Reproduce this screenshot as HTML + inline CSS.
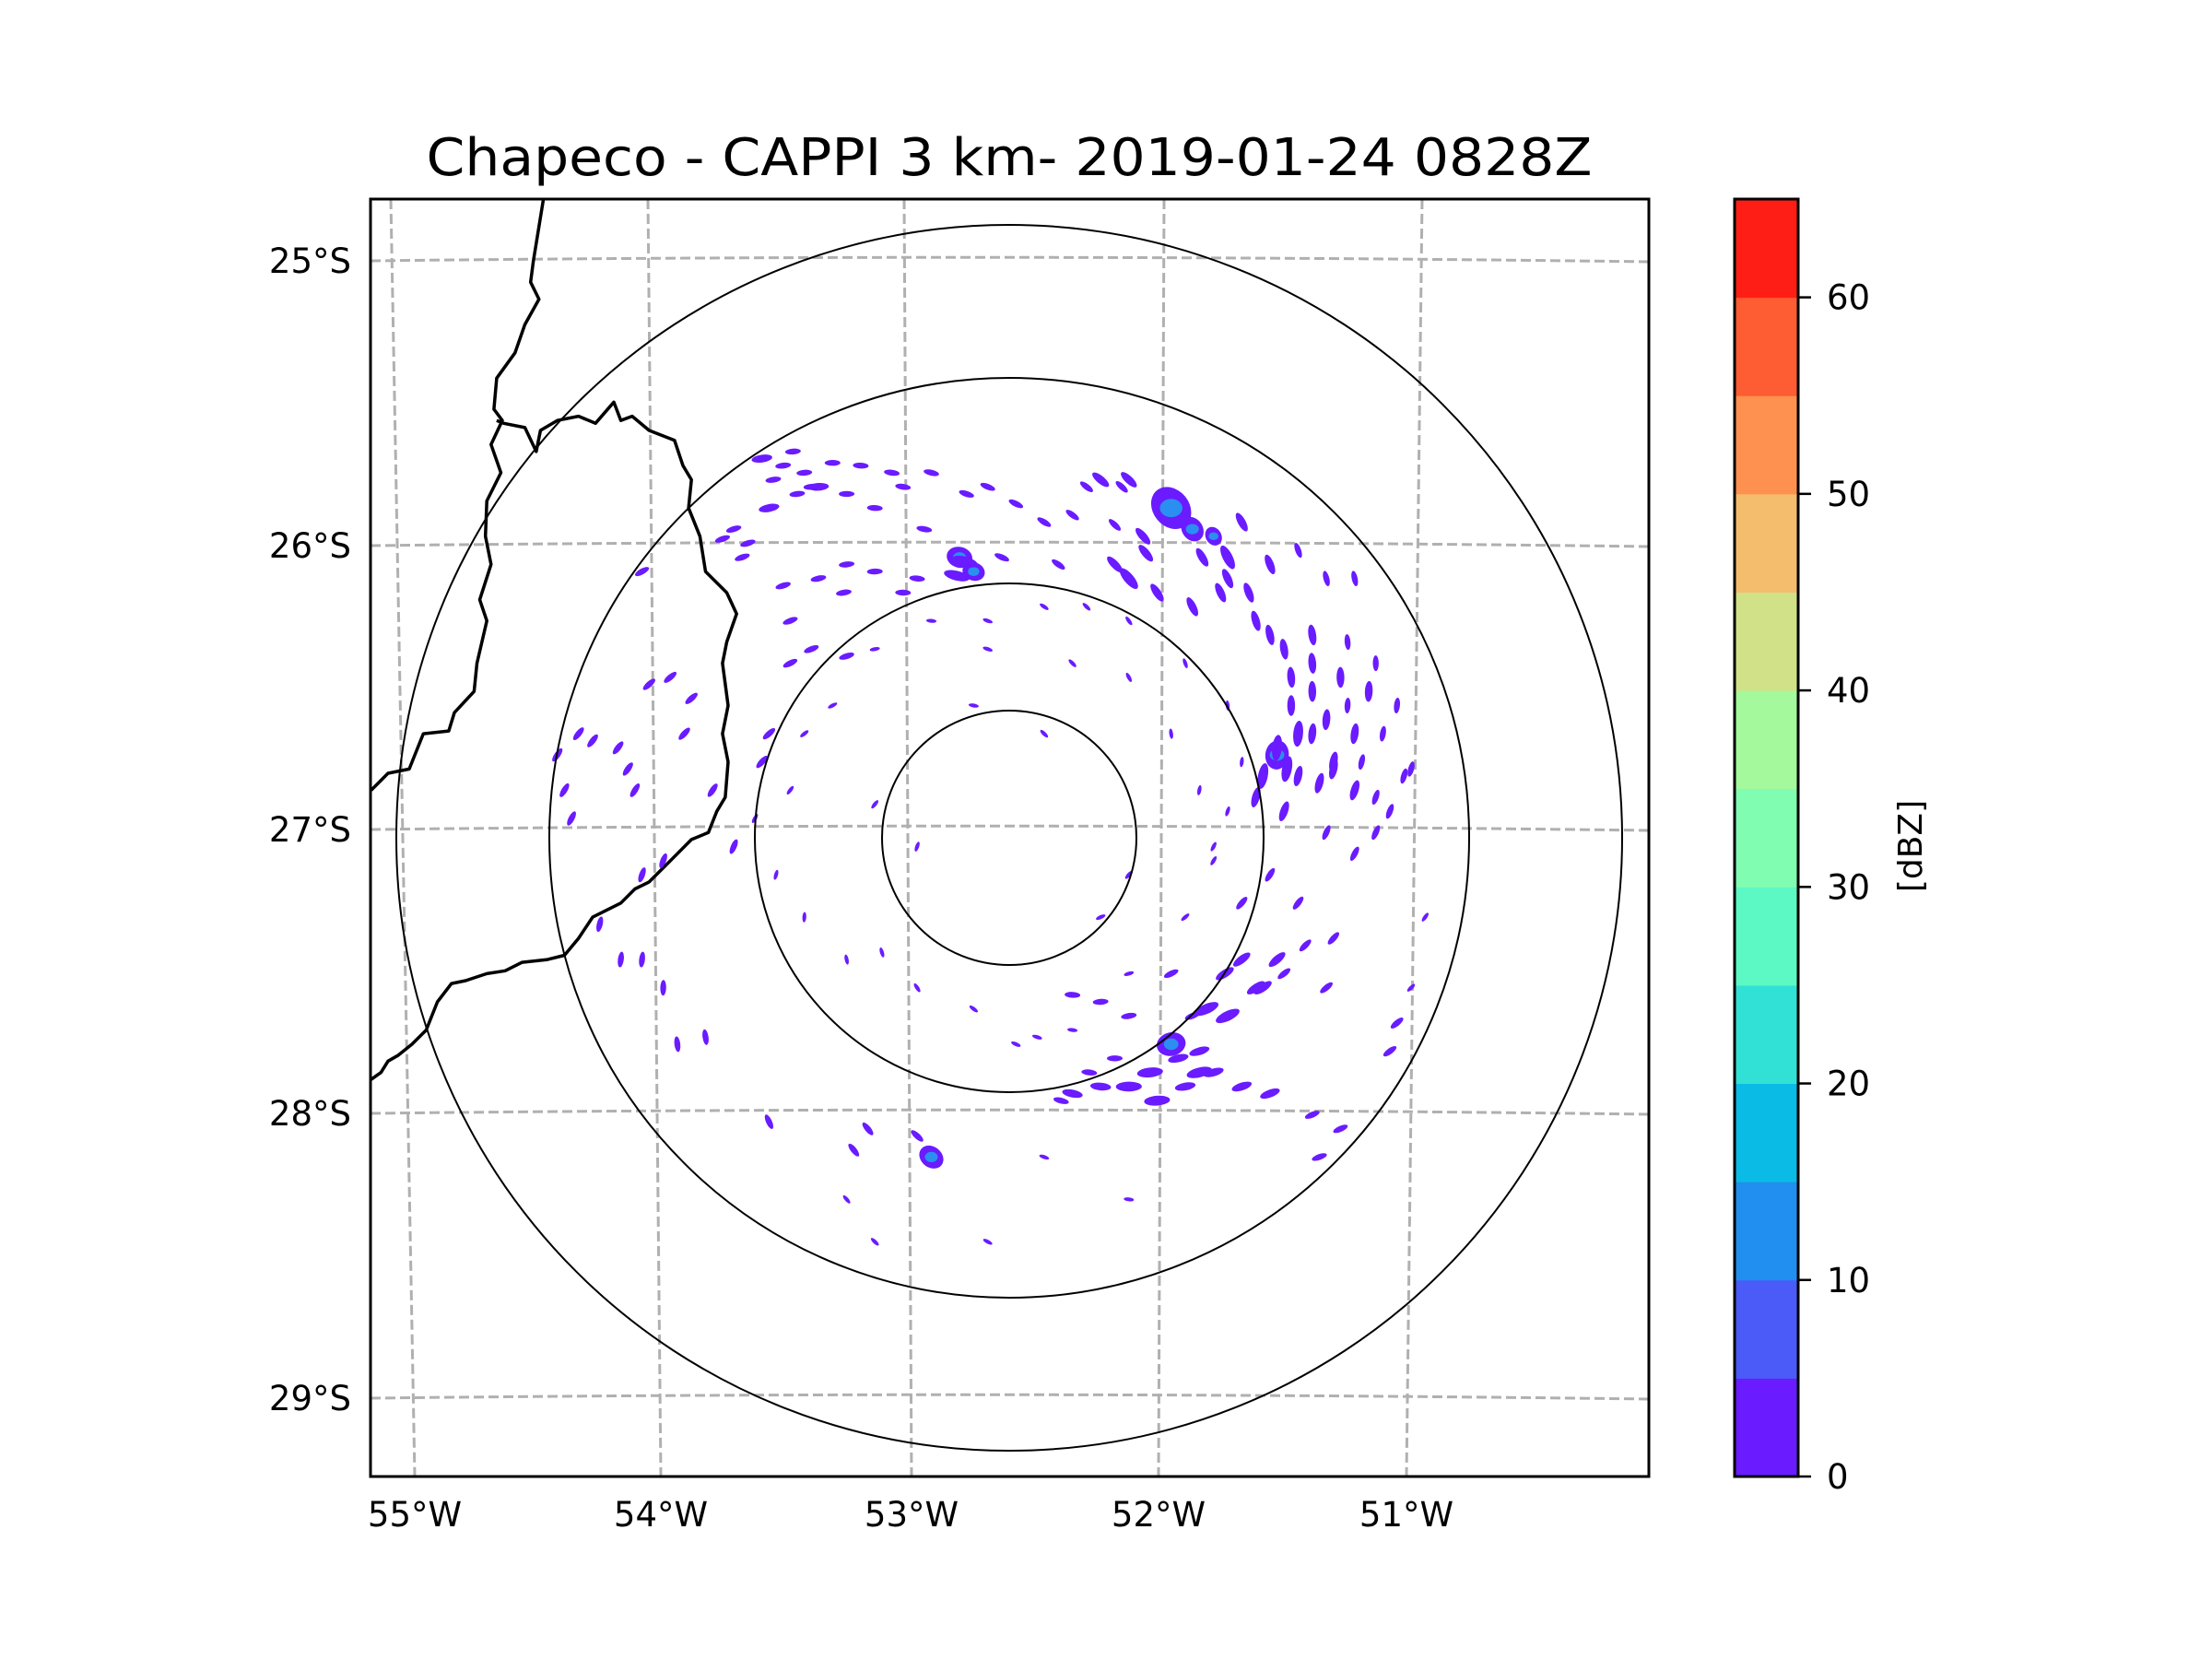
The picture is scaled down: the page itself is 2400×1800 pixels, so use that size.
<!DOCTYPE html>
<html><head><meta charset="utf-8"><style>
html,body{margin:0;padding:0;background:#fff;}
svg{display:block;}
text{font-family:"DejaVu Sans","Liberation Sans",sans-serif;fill:#000;}
</style></head><body>
<svg id="fig" width="2400" height="1800" viewBox="0 0 2400 1800" xmlns="http://www.w3.org/2000/svg">
<rect width="2400" height="1800" fill="#fff"/>
<text x="1095" y="190" font-size="56" text-anchor="middle" textLength="1265" lengthAdjust="spacingAndGlyphs">Chapeco - CAPPI 3 km- 2019-01-24 0828Z</text>
<defs><clipPath id="ax"><rect x="402" y="216" width="1387" height="1386"/></clipPath></defs>
<g id="grid" clip-path="url(#ax)"></g>
<g id="coast" clip-path="url(#ax)"></g>
<g id="echo" clip-path="url(#ax)"></g>
<g id="rings" clip-path="url(#ax)"></g>
<rect x="402" y="216" width="1387" height="1386" fill="none" stroke="#000" stroke-width="3"/>
<g id="ticks"></g>
<g id="cbar"></g>
<text x="2085" y="918" font-size="36" text-anchor="middle" transform="rotate(-90 2085 918)">[dBZ]</text>
</svg>
<script>
const NS='http://www.w3.org/2000/svg';
const S=1.531; // display->actual scale
const latLabels=['25°S','26°S','27°S','28°S','29°S'];
const latY=[283,592,900,1208,1517];
const lonLabels=['55°W','54°W','53°W','52°W','51°W'];
const lonTop=[424,703,981,1263,1543];
const lonBot=[450,717,989,1257,1526];
const ringR=[138,276,499,665];
const cbTicks=[0,10,20,30,40,50,60];
const cbColors=['#6a1bff','#4a5bf8','#208ff0','#0abbe6','#32e1d5','#5df9c5','#81fdb1','#a3f99b','#d1e187','#f4bd6d','#fe9150','#fe5c32','#ff1e15'];
const center=[1095,909];
// echoes in display coords: x, y, size
const echoX=[540,555,570,590,610,580,565,600,640,660,685,720,740,760,780,800,830,845,860,870,880,900,920,940,960,545,520,530,555,580,600,620,650,680,690,710,750,790,800,820,845,870,890,910,930,950,970,990,995,985,960,940,920,905,895,920,945,965,975,940,960,1010,990,985,945,920,905,890,870,855,830,815,800,780,760,820,840,860,880,900,930,950,935,800,780,760,660,650,615,605,545,500,480,470,455,440,425,455,470,405,400,395,410,445,450,460,475,490,455,560,575,600,545,540,535,550,570,600,625,650,690,735,770,720,760,800,840,860,870,880,870,840,800,770,740,700,660,620,590,570,560,700,760,800,830,850,860,650,620,800,780,690,740,700,600,620,740,800,940,880,1000,830,900,795,810,850,905,912,935,
 548,562,575,620,632,655,700,770,790,812,852,865,885,900,915,930,955,975,980,1000,915,930,955,868,880,895,910,925,850,835,845,790,772,752,678,684,560,526,512,420,438,485,505,520,598,640,930,945,960,975,910,890];
const echoY=[325,330,335,328,330,345,350,350,345,335,350,357,370,365,340,340,360,375,380,395,370,400,390,410,410,360,375,385,415,410,400,405,410,395,405,395,400,400,410,420,430,410,440,460,470,480,490,500,550,575,520,510,520,535,550,550,545,540,565,590,605,650,725,745,665,640,680,700,720,715,740,760,770,770,775,780,770,760,770,775,790,800,820,720,710,705,820,805,800,815,795,735,740,700,680,680,655,620,610,580,560,535,520,545,560,485,480,495,405,440,460,465,520,540,580,620,650,680,675,700,715,735,760,740,730,690,650,610,575,540,500,470,440,430,430,440,440,460,500,520,560,460,470,480,520,560,600,600,570,620,650,500,520,880,850,880,820,850,700,640,700,690,620,345,380,760,530,545,555,
 340,320,345,360,335,375,345,345,372,392,395,420,420,450,480,450,455,470,520,545,500,490,500,690,680,700,690,670,745,750,720,750,760,780,408,398,470,395,382,525,530,520,560,600,420,420,520,540,560,590,575,565];
const echoS=[4,3,3,3,3,4,3,3,3,3,3,3,3,3,4,4,14,8,6,5,4,4,3,3,3,4,3,3,3,3,3,3,3,8,7,3,3,4,5,4,4,4,4,4,4,4,4,3,3,3,4,4,5,9,5,4,4,3,3,3,3,2,3,3,3,3,4,4,5,5,9,5,5,4,4,5,4,4,4,4,3,3,3,3,3,3,8,3,3,3,3,3,3,3,3,3,3,3,3,3,3,3,3,3,3,3,3,3,3,3,3,3,3,3,2,2,2,2,2,2,2,2,2,2,2,2,2,2,2,2,2,2,2,2,2,2,2,2,2,2,2,2,2,2,2,2,2,2,2,2,2,2,2,2,2,2,2,2,3,3,2,3,3,3,4,5,5,5,4,
 3,3,3,3,3,3,3,3,3,4,4,4,4,4,4,4,3,3,3,3,4,4,3,4,4,4,3,3,4,4,3,3,3,3,5,5,3,3,3,3,3,3,3,3,3,3,4,4,4,3,4,4];
// borders in display coords
const coast1=[[385,142],[378,185],[376,200],[382,212],[372,230],[365,250],[352,268],[350,290],[356,298],[348,315],[355,335],[345,355],[344,380],[348,400],[340,425],[345,440],[338,470],[336,490],[322,505],[318,518],[300,520],[290,545],[275,548],[263,560]];
const coast2=[[352,298],[357,300],[372,303],[380,320],[383,305],[395,298],[410,295],[422,300],[435,285],[440,298],[448,295],[460,305],[478,312],[484,330],[490,340],[488,360],[496,380],[500,405],[515,420],[522,435],[515,455],[512,470],[516,500],[512,520],[516,540],[514,565],[508,575],[502,590],[490,595],[480,605],[470,615],[460,625],[450,630],[440,640],[420,650],[410,665],[400,677],[388,680],[370,682],[358,688],[345,690],[330,695],[320,697],[310,710],[302,730],[292,740],[282,748],[275,752],[270,760],[263,765]];

function mk(tag,attrs,parent){const e=document.createElementNS(NS,tag);for(const k in attrs)e.setAttribute(k,attrs[k]);parent.appendChild(e);return e;}
const grid=document.getElementById('grid');
latY.forEach((y,i)=>{
  const p=mk('path',{d:`M402 ${y} Q1095 ${y-8} 1789 ${y+1}`,fill:'none',stroke:'#b0b0b0','stroke-width':3,'stroke-dasharray':'11 5'},grid);
  
  
});
lonTop.forEach((x,i)=>{
  const p=mk('line',{x1:x,y1:216,x2:lonBot[i],y2:1602,stroke:'#b0b0b0','stroke-width':3,'stroke-dasharray':'11 5'},grid);
  
  
});
const coast=document.getElementById('coast');
[coast1,coast2].forEach(c=>{
  const p=mk('polyline',{points:c.map(q=>(q[0]*S).toFixed(1)+','+(q[1]*S).toFixed(1)).join(' '),fill:'none',stroke:'#000','stroke-width':3.5,'stroke-linejoin':'round'},coast);
  
  
});
const echo=document.getElementById('echo');
echoX.forEach((dx,i)=>{
  const x=dx*S,y=echoY[i]*S,s=echoS[i]*S*1.15;
  const ang=Math.atan2(y-center[1],x-center[0])*180/Math.PI+90+25;
  const big=echoS[i]>=6;
  const e=mk('ellipse',{cx:x.toFixed(1),cy:y.toFixed(1),rx:(big?s:s*1.6).toFixed(1),ry:(big?s*0.8:s*0.6).toFixed(1),fill:'#6a1bff',transform:`rotate(${ang.toFixed(1)} ${x.toFixed(1)} ${y.toFixed(1)})`},echo);
  
  
  if(big){
    const c=mk('ellipse',{cx:x.toFixed(1),cy:y.toFixed(1),rx:(s*0.5).toFixed(1),ry:(s*0.4).toFixed(1),fill:'#2a8ff0'},echo);
    
    
  }
});
const rings=document.getElementById('rings');
ringR.forEach(r=>{
  const c=mk('circle',{cx:center[0],cy:center[1],r:r,fill:'none',stroke:'#000','stroke-width':2},rings);
  
  
});
const ticks=document.getElementById('ticks');
latLabels.forEach((t,i)=>{
  const e=mk('text',{x:381,y:latY[i]+13,'font-size':37,'text-anchor':'end'},ticks);e.textContent=t;
  
  
});
lonLabels.forEach((t,i)=>{
  const e=mk('text',{x:lonBot[i],y:1656,'font-size':37,'text-anchor':'middle'},ticks);e.textContent=t;
  
  
});
const cb=document.getElementById('cbar');
const cbTop=216,cbBot=1602,cbX=1882,cbW=69,vmax=65;
const yv=v=>cbBot-(v/vmax)*(cbBot-cbTop);
cbColors.forEach((c,i)=>{
  const r=mk('rect',{x:cbX,y:yv((i+1)*5),width:cbW,height:yv(i*5)-yv((i+1)*5)+0.5,fill:c},cb);
  
  
});
const fr=mk('rect',{x:cbX,y:cbTop,width:cbW,height:cbBot-cbTop,fill:'none',stroke:'#000','stroke-width':3},cb);


cbTicks.forEach(v=>{
  const l=mk('line',{x1:cbX+cbW,x2:cbX+cbW+14,y1:yv(v),y2:yv(v),stroke:'#000','stroke-width':2.5},cb);
  
  
  const t=mk('text',{x:1982,y:yv(v)+13,'font-size':37},cb);t.textContent=v;
  
  
});
</script>
</body></html>
